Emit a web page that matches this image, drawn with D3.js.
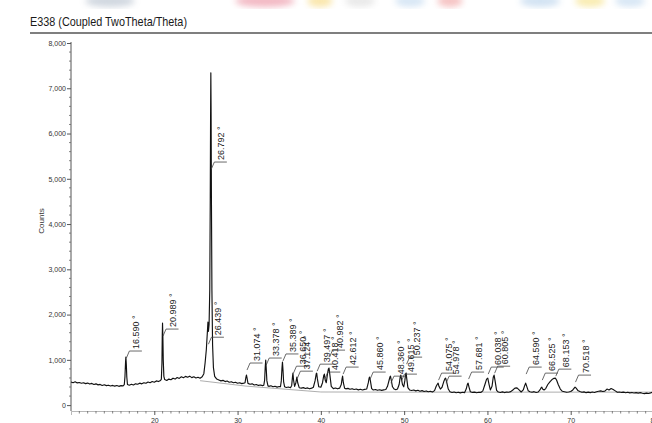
<!DOCTYPE html>
<html>
<head>
<meta charset="utf-8">
<script src="https://cdn.jsdelivr.net/npm/d3@7"></script>
<style>
  html, body { margin: 0; padding: 0; background: #fff; }
  svg { display: block; }
</style>
</head>
<body>
<div class="svg"></div>
<script>
// measured pattern: [2theta, counts]
var scan = [
  [10.00,510],[10.25,495],[10.50,515],[10.75,490],[11.00,500],[11.25,483],[11.50,495],[11.75,475],[12.00,487],[12.25,465],
  [12.50,480],[12.75,455],[13.00,470],[13.25,447],[13.50,457],[13.75,435],[14.00,450],[14.25,430],[14.50,440],[14.75,423],
  [15.00,435],[15.25,420],[15.50,433],[15.75,415],[16.00,430],[16.25,425],
  [16.40,455],[16.48,630],[16.55,950],[16.59,1060],[16.64,910],[16.70,620],[16.78,455],
  [17.00,440],[17.25,460],[17.50,445],[17.75,470],[18.00,460],[18.25,485],[18.50,470],[18.75,495],[19.00,483],[19.25,510],
  [19.50,495],[19.75,520],[20.00,505],[20.25,535],[20.50,520],[20.75,545],
  [20.85,575],[20.92,930],[20.96,1560],[20.99,1810],[21.03,1520],[21.08,980],[21.15,635],[21.25,565],
  [21.50,545],[21.75,575],[22.00,560],[22.25,595],[22.50,575],[22.75,610],[23.00,590],[23.25,625],[23.50,605],[23.75,635],
  [24.00,615],[24.25,640],[24.50,607],[24.75,625],[25.00,600],[25.25,615],[25.50,595],[25.75,625],
  [25.95,695],[26.10,930],[26.25,1230],[26.38,1630],[26.44,1835],[26.50,1630],[26.58,1780],[26.66,2530],[26.72,4530],
  [26.76,6400],[26.79,7340],[26.82,6500],[26.86,4600],[26.92,2530],[27.00,1330],[27.10,830],[27.25,635],
  [27.50,575],[27.75,555],[28.00,535],[28.25,547],[28.50,520],[28.75,533],[29.00,505],[29.25,517],[29.50,495],[29.75,505],
  [30.00,483],[30.25,495],[30.50,475],[30.75,485],
  [30.90,495],[31.00,615],[31.07,665],[31.14,595],[31.25,480],
  [31.50,460],[31.75,470],[32.00,445],[32.25,455],[32.50,435],[32.75,445],[33.00,430],[33.15,440],
  [33.25,555],[33.32,835],[33.38,995],[33.44,815],[33.52,535],[33.65,425],
  [33.75,415],[34.00,427],[34.25,405],[34.50,417],[34.75,397],[35.00,410],[35.15,405],
  [35.25,535],[35.33,815],[35.39,950],[35.45,785],[35.53,515],[35.65,405],
  [35.85,390],[36.10,400],[36.35,385],[36.50,435],[36.60,635],[36.65,707],[36.72,555],[36.85,415],[37.00,495],[37.12,620],
  [37.22,495],[37.40,385],[37.65,375],[37.90,387],[38.15,367],[38.40,380],[38.65,360],[38.90,375],[39.10,395],
  [39.30,535],[39.45,695],[39.50,707],[39.58,585],[39.75,405],[40.00,395],[40.20,495],[40.35,655],[40.42,685],[40.52,555],
  [40.65,495],[40.80,695],[40.90,795],[40.98,818],[41.08,675],[41.25,415],
  [41.50,365],[41.75,377],[42.00,360],[42.25,375],[42.45,455],
  [42.55,585],[42.61,640],[42.70,495],[42.85,375],[43.00,360],[43.25,370],[43.50,350],[43.75,363],[44.00,345],[44.25,355],
  [44.50,337],[44.75,350],[45.00,335],[45.25,347],[45.50,355],
  [45.70,495],[45.80,605],[45.86,620],[45.95,535],[46.10,365],[46.30,335],[46.55,345],[46.80,327],[47.05,340],[47.30,325],
  [47.55,337],[47.80,345],[48.00,415],
  [48.20,555],[48.30,625],[48.36,640],[48.45,555],[48.60,405],[48.80,355],[49.00,340],[49.20,355],[49.40,455],
  [49.52,615],[49.60,663],[49.68,575],[49.80,455],[49.95,405],[50.08,535],[50.18,685],[50.24,707],[50.32,575],[50.45,385],
  [50.65,335],[50.90,323],[51.15,335],[51.40,315],[51.65,327],[51.90,307],[52.15,320],[52.40,300],[52.65,313],[52.90,295],
  [53.15,307],[53.40,290],[53.65,320],[53.85,415],
  [54.00,465],[54.08,486],[54.18,415],[54.35,355],[54.55,395],[54.75,515],[54.90,585],[54.98,597],[55.10,515],[55.30,355],
  [55.50,295],[55.75,280],[56.00,290],[56.25,273],[56.50,285],[56.75,270],[57.00,283],[57.25,275],[57.45,355],
  [57.60,465],[57.68,486],[57.78,405],[57.95,295],[58.20,280],[58.45,287],[58.70,273],[58.95,285],[59.20,280],[59.45,315],
  [59.70,455],[59.90,575],[60.04,597],[60.20,455],[60.35,335],[60.55,415],[60.70,615],[60.80,663],[60.92,535],[61.10,325],
  [61.30,290],[61.55,280],[61.80,293],[62.05,277],[62.30,290],[62.55,285],[62.80,297],[63.05,335],[63.30,375],[63.55,380],
  [63.80,335],[64.05,290],[64.30,335],
  [64.48,435],[64.59,486],[64.72,415],[64.90,315],[65.10,295],[65.35,285],[65.60,297],[65.85,280],[66.10,290],[66.30,335],
  [66.45,385],[66.53,398],[66.62,355],[66.80,335],[67.00,365],[67.25,455],[67.50,515],[67.75,565],[68.00,592],[68.15,597],
  [68.30,555],[68.50,455],[68.75,355],[69.00,305],[69.25,295],[69.50,283],[69.75,290],[70.00,300],[70.25,335],
  [70.42,375],[70.52,398],[70.65,375],[70.85,325],[71.10,300],[71.35,283],[71.60,293],[71.85,275],[72.10,287],[72.35,277],
  [72.60,290],[72.85,280],[73.10,295],[73.35,307],[73.60,315],[73.85,300],[74.10,310],[74.35,355],[74.60,335],[74.85,365],
  [75.10,345],[75.35,315],[75.60,283],[75.85,290],[76.10,280],[76.35,287],[76.60,273],[76.85,285],[77.10,270],[77.35,280],
  [77.60,267],[77.85,277],[78.10,265],[78.35,275],[78.60,263],[78.85,253],[79.10,265],[79.35,257],[79.60,270],[79.85,285],
  [80.00,295]
];

// fitted background
var background = [[25.5,540],[31.0,420],[40.0,290],[50.0,287],[80.0,287]];

// peak annotations
var peakPos    = [16.590,20.989,26.439,26.792,31.074,33.378,35.389,36.650,37.124,39.497,40.418,40.982,42.612,
                  45.860,48.360,49.615,50.237,54.075,54.978,57.681,60.038,60.805,64.590,66.525,68.153,70.518];
var peakLabels = ["16.590 °","20.989 °","26.439 °","26.792 °","31.074 °","33.378 °","35.389 °","36.650 °","37.124 °",
                  "39.497 °","40.418 °","40.982 °","42.612 °","45.860 °","48.360 °","49.615 °","50.237 °","54.075 °",
                  "54.978 °","57.681 °","60.038 °","60.805 °","64.590 °","66.525 °","68.153 °","70.518 °"];
var labelCounts = [1195,1680,1500,5370,930,1040,1130,860,750,905,730,1215,840,730,640,685,1060,707,640,730,840,860,840,707,795,663];

var yTicks = [0,1000,2000,3000,4000,5000,6000,7000,8000];
var xTicks = [20,30,40,50,60,70,80];

var W = 652, H = 423;

var outer = d3.select(".svg").append("svg")
  .attr("width", W)
  .attr("height", H);

outer.append("rect").attr("width", W).attr("height", H).attr("fill", "#ffffff");

// faint coloured banner at the very top
var defs = outer.append("defs");
defs.append("filter").attr("id", "blur").append("feGaussianBlur").attr("stdDeviation", 3);
var blobs = outer.append("g").attr("filter", "url(#blur)").attr("opacity", 0.4);
[[110,50,"#8a9bb0"],[265,60,"#e0506a"],[320,25,"#f2c230"],[360,30,"#c9c9c9"],[410,30,"#9ec3e6"],
 [450,25,"#e86a6a"],[540,40,"#8fb8e0"],[590,30,"#f0d040"],[630,30,"#9ec3e6"]].forEach(function(b){
  blobs.append("ellipse").attr("cx", b[0]).attr("cy", 1).attr("rx", b[1] / 2).attr("ry", 6).attr("fill", b[2]);
});

// title
outer.append("text")
  .attr("x", 30).attr("y", 25.5)
  .attr("font-family", "'Liberation Sans Narrow','Arial Narrow','Liberation Sans',Arial,sans-serif")
  .attr("font-size", 13)
  .attr("textLength", 157)
  .attr("lengthAdjust", "spacingAndGlyphs")
  .attr("fill", "#1a1a1a")
  .text("E338 (Coupled TwoTheta/Theta)");

outer.append("line")
  .attr("x1", 30).attr("x2", W).attr("y1", 33).attr("y2", 33)
  .attr("stroke", "#555").attr("stroke-width", 1.6);

var x = d3.scaleLinear().domain([10, 80]).range([71, 654]);
var y = d3.scaleLinear().domain([-130, 8000]).range([411, 43]);

var font = "'Liberation Sans',Arial,sans-serif";

// y axis
var yAxis = d3.axisLeft(y).tickValues(yTicks).tickSize(4).tickPadding(1)
  .tickFormat(d3.format(","));
var gy = outer.append("g").attr("transform", "translate(71,0)").call(yAxis);
gy.select(".domain").remove();
gy.selectAll("text").attr("font-size", 7).attr("font-family", font).attr("fill", "#333");
gy.selectAll("line").attr("stroke", "#555");
outer.append("line").attr("x1", 71).attr("x2", 71).attr("y1", 42).attr("y2", 411)
  .attr("stroke", "#555").attr("stroke-width", 1);

var yMinor = d3.range(0, 8001, 200).filter(function(d){ return d % 1000 !== 0; });
outer.append("g").selectAll("line").data(yMinor).enter().append("line")
  .attr("x1", 69).attr("x2", 71)
  .attr("y1", function(d){ return y(d); }).attr("y2", function(d){ return y(d); })
  .attr("stroke", "#666").attr("stroke-width", 0.8);

outer.append("text")
  .attr("transform", "translate(44,221) rotate(-90)")
  .attr("text-anchor", "middle")
  .attr("font-family", font).attr("font-size", 8).attr("fill", "#333")
  .text("Counts");

// x axis
var xAxis = d3.axisBottom(x).tickValues(xTicks).tickSize(4).tickPadding(3);
var gx = outer.append("g").attr("transform", "translate(0,411)").call(xAxis);
gx.select(".domain").attr("stroke", "#888").attr("stroke-width", 0.6);
gx.selectAll("text").attr("font-size", 7).attr("font-family", font).attr("fill", "#333");
gx.selectAll("line").attr("stroke", "#555");

var xMinor = d3.range(11, 80, 1).filter(function(d){ return d % 10 !== 0; });
outer.append("g").selectAll("line").data(xMinor).enter().append("line")
  .attr("x1", function(d){ return x(d); }).attr("x2", function(d){ return x(d); })
  .attr("y1", 411).attr("y2", 413.5)
  .attr("stroke", "#666").attr("stroke-width", 0.8);

var line = d3.line()
  .x(function(d){ return x(d[0]); })
  .y(function(d){ return y(d[1]); });

// background fit
outer.append("path")
  .attr("d", line(background))
  .attr("fill", "none")
  .attr("stroke", "#999")
  .attr("stroke-width", 0.8);

// pattern
outer.append("path")
  .attr("d", line(scan))
  .attr("fill", "none")
  .attr("stroke", "#111")
  .attr("stroke-width", 1.15)
  .attr("stroke-linejoin", "round");

// peak labels
var lab = outer.append("g");
peakPos.forEach(function(p, i){
  var px = x(p), py = y(labelCounts[i]);
  lab.append("path")
    .attr("d", "M" + (px + 0.5) + "," + (py + 7) + "L" + (px + 3.5) + "," + py + "L" + (px + 16) + "," + py)
    .attr("fill", "none")
    .attr("stroke", "#444")
    .attr("stroke-width", 0.8);
  lab.append("text")
    .attr("transform", "translate(" + (px + 13.5) + "," + (py - 2) + ") rotate(-90)")
    .attr("font-family", font)
    .attr("font-size", 9)
    .attr("fill", "#222")
    .text(peakLabels[i]);
});
</script>
</body>
</html>
